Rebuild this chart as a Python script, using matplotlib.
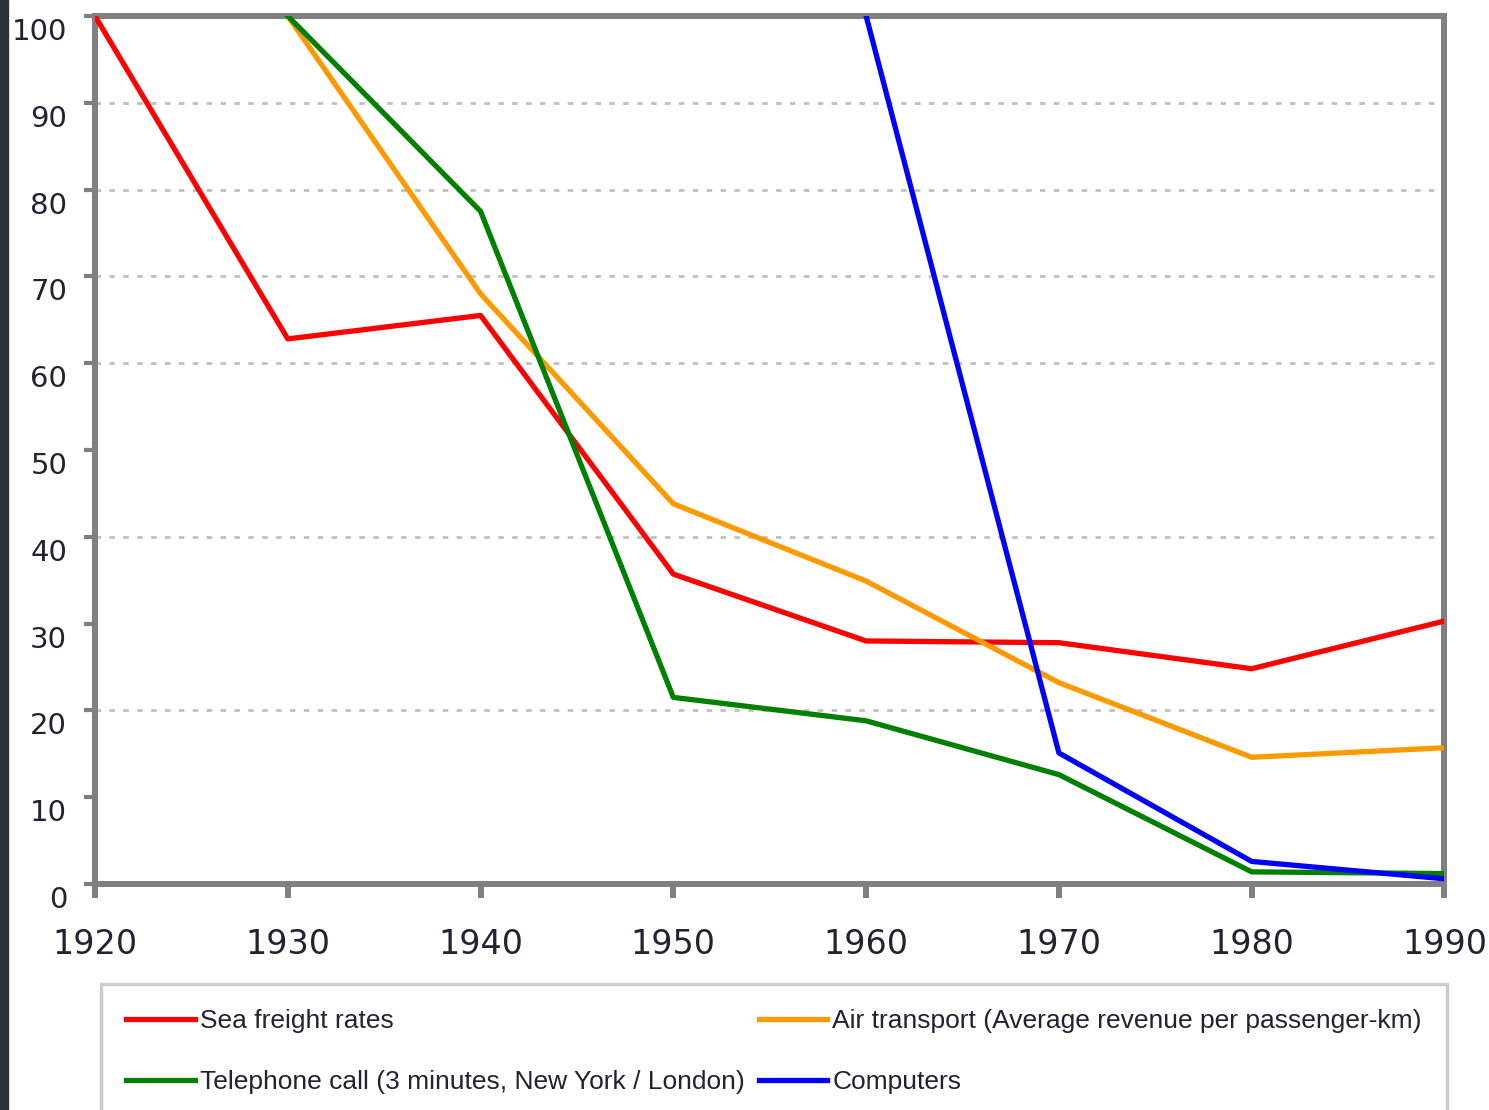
import matplotlib.pyplot as plt
from matplotlib.patches import Rectangle
from matplotlib.transforms import ScaledTranslation

# Data (index)
years = [1920, 1930, 1940, 1950, 1960, 1970, 1980, 1990]
sea_freight = [100, 62.8, 65.5, 35.7, 28.0, 27.8, 24.8, 30.3]
air_years = [1930, 1940, 1950, 1960, 1970, 1980, 1990]
air_transport = [100, 68.0, 43.8, 34.9, 23.2, 14.6, 15.7]
tel_years = [1930, 1940, 1950, 1960, 1970, 1980, 1990]
telephone = [100, 77.5, 21.5, 18.8, 12.6, 1.4, 1.2]
comp_years = [1960, 1970, 1980, 1990]
computers = [100, 15.1, 2.6, 0.6]

y_ticks = list(range(0, 101, 10))
grid_levels = [20, 40, 60, 70, 80, 90]

label_sea = 'Sea freight rates'
label_air = 'Air transport (Average revenue per passenger-km)'
label_tel = 'Telephone call (3 minutes, New York / London)'
label_comp = 'Computers'

text_col = '#222233'
spine_col = '#808080'

fig = plt.figure(figsize=(14.89, 11.10), dpi=100)
ax = fig.add_axes([0.0638, 0.2036, 0.9063, 0.7820])

# dark strip on the left edge
fig.patches.append(Rectangle((0, 0), 8 / 1489, 1, transform=fig.transFigure,
                             color='#2b323b', zorder=0))

for lvl in grid_levels:
    ax.axhline(lvl, color='#c0c0c0', lw=2, ls=(0, (2, 3)), zorder=1)

lw = 3.8
l_sea, = ax.plot(years, sea_freight, color='#ff0000', lw=lw, zorder=3)
l_air, = ax.plot(air_years, air_transport, color='#ff9900', lw=lw, zorder=3)
l_tel, = ax.plot(tel_years, telephone, color='#008000', lw=lw, zorder=3)
l_comp, = ax.plot(comp_years, computers, color='#0000ff', lw=lw, zorder=4)

ax.set_xlim(1920, 1990)
ax.set_ylim(0, 100)
ax.set_xticks(years)
ax.set_yticks(y_ticks)

for s in ax.spines.values():
    s.set_color(spine_col)
    s.set_linewidth(4.3)

ax.tick_params(axis='x', direction='out', length=10, width=4.3, color=spine_col,
               pad=22, labelsize=24, labelcolor=text_col)
ax.tick_params(axis='y', direction='out', length=8, width=3, color=spine_col,
               pad=12, labelsize=21, labelcolor=text_col)

# y labels sit a bit below their tick in the reference
offset = ScaledTranslation(0, -13 / 100, fig.dpi_scale_trans)
for lab in ax.get_yticklabels():
    lab.set_transform(lab.get_transform() + offset)

leg_top = 1 - 984 / 1110
leg = fig.legend([l_sea, l_tel, l_air, l_comp],
                 [label_sea, label_tel, label_air, label_comp],
                 ncol=2, loc='upper left', mode='expand',
                 bbox_to_anchor=(101 / 1489, leg_top - 0.1, 1346 / 1489, 0.1),
                 frameon=True, fancybox=False, handlelength=2.6, handletextpad=0.2,
                 borderpad=0.95, labelspacing=1.4, columnspacing=0.5,
                 borderaxespad=0,
                 prop={'family': ['Liberation Sans', 'DejaVu Sans'], 'size': 19})
leg.get_frame().set_edgecolor('#c0c0c0')
leg.get_frame().set_linewidth(2.5)
for t in leg.get_texts():
    t.set_color(text_col)

fig.savefig('out.png', dpi=100)
